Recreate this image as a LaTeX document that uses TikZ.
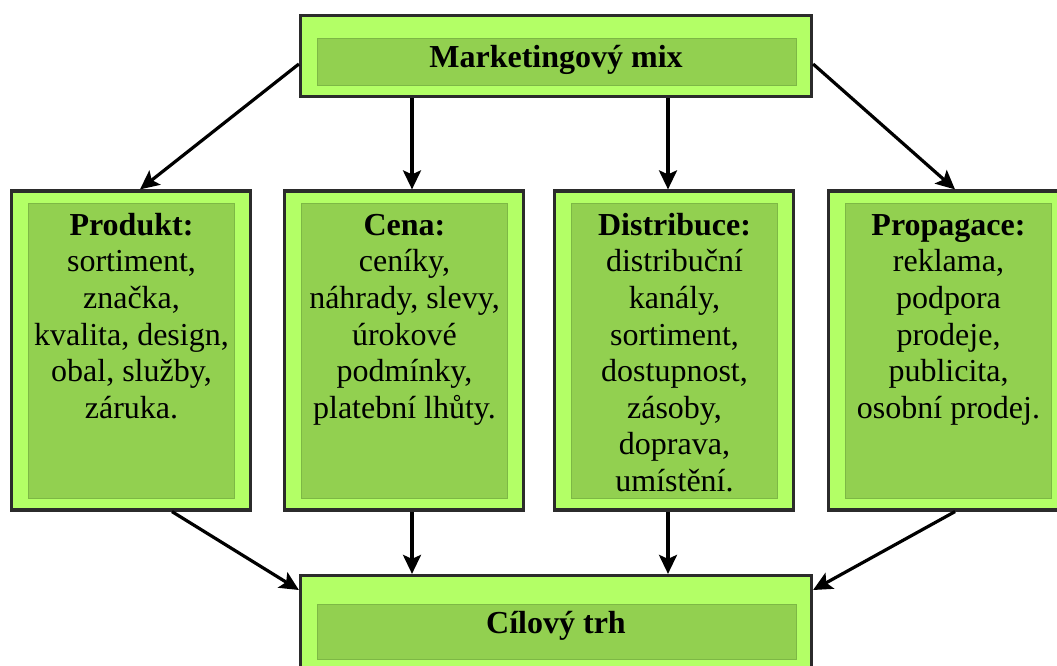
\documentclass[tikz,border=0pt]{standalone}
\usepackage{fontspec}
\setmainfont{Liberation Serif}
\usetikzlibrary{arrows.meta}
\definecolor{lightg}{HTML}{B3FF66}
\definecolor{darkg}{HTML}{92D050}
\definecolor{innerline}{HTML}{7DB845}
\definecolor{boxline}{HTML}{2B2B2B}
\begin{document}
\begin{tikzpicture}[x=1pt,y=-1pt,
  outerbox/.style={draw=boxline, line width=3.2pt, fill=lightg, rectangle, inner sep=0pt},
  innerbox/.style={draw=innerline, line width=0.8pt, fill=darkg, rectangle, inner sep=0pt},
  txt/.style={font=\fontsize{32}{36.6}\selectfont, align=center, inner sep=0pt},
  ttl/.style={font=\fontsize{32}{36.6}\selectfont\bfseries, inner sep=0pt, anchor=base},
  arr/.style={line width=3.2pt, -{Stealth[length=19pt,width=18pt,inset=4pt]}}]
\useasboundingbox (0,0) rectangle (1057,666);
% top box
\node[outerbox, minimum width=511pt, minimum height=81pt] (top) at (556,56) {};
\node[innerbox, minimum width=479pt, minimum height=47pt] (topin) at (556.5,61.5) {};
\node[ttl] (toptxt) at (556,68) {Marketingový mix};
% columns
\node[outerbox, minimum width=239pt, minimum height=319pt] (prod) at (131,350.5) {};
\node[innerbox, minimum width=206pt, minimum height=295pt] (prodin) at (131.5,350.5) {};
\node[txt, anchor=north] (prodtxt) at (131.5,209.4) {\strut\textbf{Produkt:}\\sortiment,\\značka,\\kvalita, design,\\obal, služby,\\záruka.};

\node[outerbox, minimum width=239pt, minimum height=319pt] (cena) at (404,350.5) {};
\node[innerbox, minimum width=206pt, minimum height=295pt] (cenain) at (404.5,350.5) {};
\node[txt, anchor=north] (cenatxt) at (404.5,209.4) {\strut\textbf{Cena:}\\ceníky,\\náhrady, slevy,\\úrokové\\podmínky,\\platební lhůty.};

\node[outerbox, minimum width=239pt, minimum height=319pt] (dist) at (674,350.5) {};
\node[innerbox, minimum width=206pt, minimum height=295pt] (distin) at (674.5,350.5) {};
\node[txt, anchor=north] (disttxt) at (674.5,209.4) {\strut\textbf{Distribuce:}\\distribuční\\kanály,\\sortiment,\\dostupnost,\\zásoby,\\doprava,\\umístění.};

\node[outerbox, minimum width=239pt, minimum height=319pt] (prop) at (948,350.5) {};
\node[innerbox, minimum width=206pt, minimum height=295pt] (propin) at (948.5,350.5) {};
\node[txt, anchor=north] (proptxt) at (948.5,209.4) {\strut\textbf{Propagace:}\\reklama,\\podpora\\prodeje,\\publicita,\\osobní prodej.};
% bottom box
\node[outerbox, minimum width=511pt, minimum height=95pt] (bot) at (556,623) {};
\node[innerbox, minimum width=479pt, minimum height=55pt] (botin) at (556.5,631.5) {};
\node[ttl] (bottxt) at (556,633) {Cílový trh};
% arrows
\draw[arr] ([yshift=-8pt]top.west) -- ([xshift=9pt]prod.north);
\draw[arr] ([yshift=-8pt]top.east) -- ([xshift=7pt]prop.north);
\draw[arr] ([xshift=-144pt]top.south) -- ([xshift=-144pt]top.south |- cena.north);
\draw[arr] ([xshift=112pt]top.south) -- ([xshift=112pt]top.south |- dist.north);
\draw[arr] ([xshift=41pt]prod.south) -- ([yshift=33pt]bot.west);
\draw[arr] ([xshift=8pt]cena.south) -- ([xshift=8pt]cena.south |- bot.north);
\draw[arr] ([xshift=-6pt]dist.south) -- ([xshift=-6pt]dist.south |- bot.north);
\draw[arr] ([xshift=7pt]prop.south) -- ([yshift=33pt]bot.east);
\end{tikzpicture}
\end{document}
